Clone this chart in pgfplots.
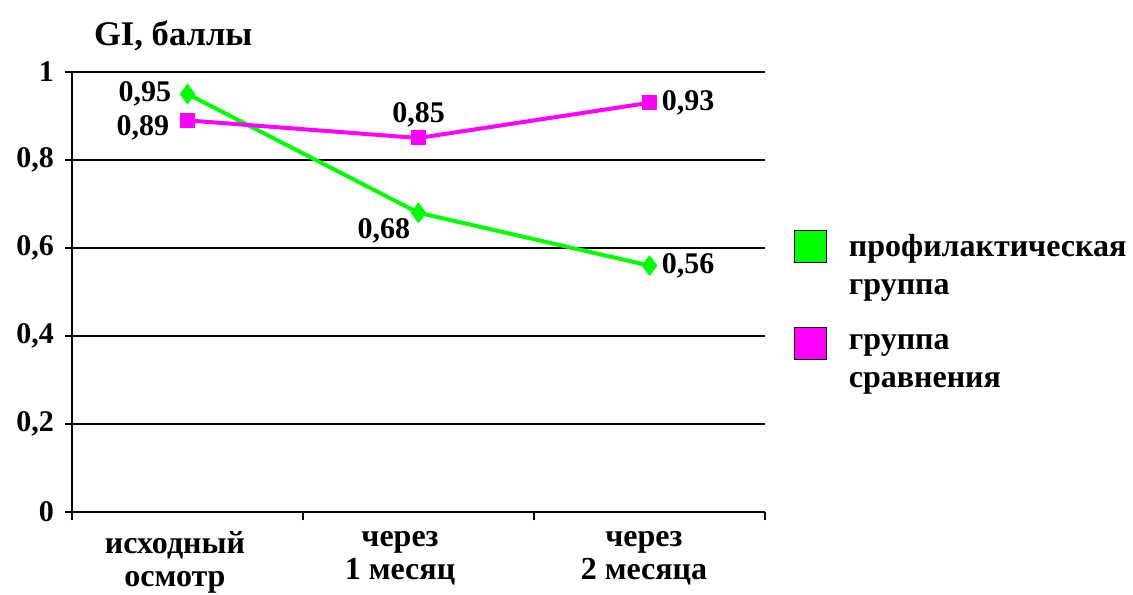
\documentclass[border=0pt]{standalone}
\usepackage{pgfplots}
\pgfplotsset{compat=1.18}
\usepackage{pgfplotstable}
\usetikzlibrary{calc}
\usepackage{fontspec}
\setmainfont{Liberation Serif}
\definecolor{cgreen}{RGB}{0,255,0}
\definecolor{cmag}{RGB}{255,0,255}

\pgfplotstableread{
x y
0 0.95
1 0.68
2 0.56
}\greendata
\pgfplotstableread{
x y
0 0.89
1 0.85
2 0.93
}\magdata

\begin{document}
\begin{tikzpicture}
\begin{axis}[
  scale only axis,
  width=346.5pt, height=220pt,
  xmin=-0.5, xmax=2.5, ymin=0, ymax=1,
  axis x line*=bottom, axis y line*=left,
  axis line style={line width=0.9pt},
  xtick={-0.054,0.92,1.976},
  xticklabels={{исходный\\осмотр},{через\\1 месяц},{через\\2 месяца}},
  major x tick style={draw=none},
  minor xtick={-0.5,0.5,1.5,2.5},
  minor x tick style={line width=0.8pt, black},
  minor tick length=4pt,
  ytick={0,0.2,0.4,0.6,0.8,1},
  major tick length=3.5pt,
  tick align=outside,
  ytick style={line width=0.8pt, black},
  ymajorgrids,
  grid style={black, line width=0.6pt},
  /pgf/number format/.cd, use comma, assume math mode=true,
  /pgfplots/.cd,
  yticklabel style={font=\bfseries\fontsize{15}{16.5}\selectfont, xshift=-2pt},
  xticklabel style={font=\bfseries\fontsize{16}{16.5}\selectfont, align=center, yshift=-4pt, inner sep=2pt},
  title={GI, баллы},
  title style={at={(rel axis cs:0,1)}, anchor=base west, xshift=7.5pt, yshift=7pt, font=\bfseries\fontsize{17.3}{19}\selectfont},
  legend style={draw=none, fill=none, at={(rel axis cs:1.033,0.651)}, anchor=north west,
    font=\bfseries\fontsize{16}{19}\selectfont, nodes={align=left}, row sep=13pt},
  legend cell align=left,
  lbl/.style={forget plot, draw=none, mark=none, nodes near coords, point meta=explicit symbolic,
    every node near coord/.style={anchor=#1, font=\bfseries\fontsize{15}{17}\selectfont, text=black, inner sep=4pt}},
]
\addplot[forget plot, cgreen, line width=2pt, mark=diamond*, mark size=4.8pt, mark options={solid, fill=cgreen, draw=cgreen, line width=0.5pt}] table[x=x,y=y] {\greendata};
\addplot[forget plot, cmag, line width=2pt, mark=square*, mark size=3.5pt, mark options={solid, fill=cmag, draw=cmag, line width=0.5pt}] table[x=x,y=y] {\magdata};
\addplot[lbl=east, every node near coord/.append style={xshift=-4pt}] coordinates {(0,0.95) [0,95]};
\addplot[lbl=east, every node near coord/.append style={xshift=-5pt, yshift=-3.5pt}] coordinates {(0,0.89) [0,89]};
\addplot[lbl=north east, every node near coord/.append style={yshift=1.5pt}] coordinates {(1,0.68) [0,68]};
\addplot[lbl=west, every node near coord/.append style={xshift=2pt}] coordinates {(2,0.56) [0,56] (2,0.93) [0,93]};
\addplot[lbl=south, every node near coord/.append style={yshift=1pt}] coordinates {(1,0.85) [0,85]};
\addlegendimage{legend image code/.code={\draw[fill=cgreen,draw=black,line width=0.6pt] (0pt,1.5pt) rectangle (16pt,17.5pt); \path[draw=none] (0pt,0pt) -- (25pt,0pt);}}
\addlegendentry{профилактическая\\группа}
\addlegendimage{legend image code/.code={\draw[fill=cmag,draw=black,line width=0.6pt] (0pt,1.5pt) rectangle (16pt,17.5pt); \path[draw=none] (0pt,0pt) -- (25pt,0pt);}}
\addlegendentry{группа\\сравнения}
\end{axis}
\pgfresetboundingbox
\path (current axis.south west) ++(-36pt,-41pt) rectangle ($(current axis.north east)+(184pt,36pt)$);
\end{tikzpicture}
\end{document}
